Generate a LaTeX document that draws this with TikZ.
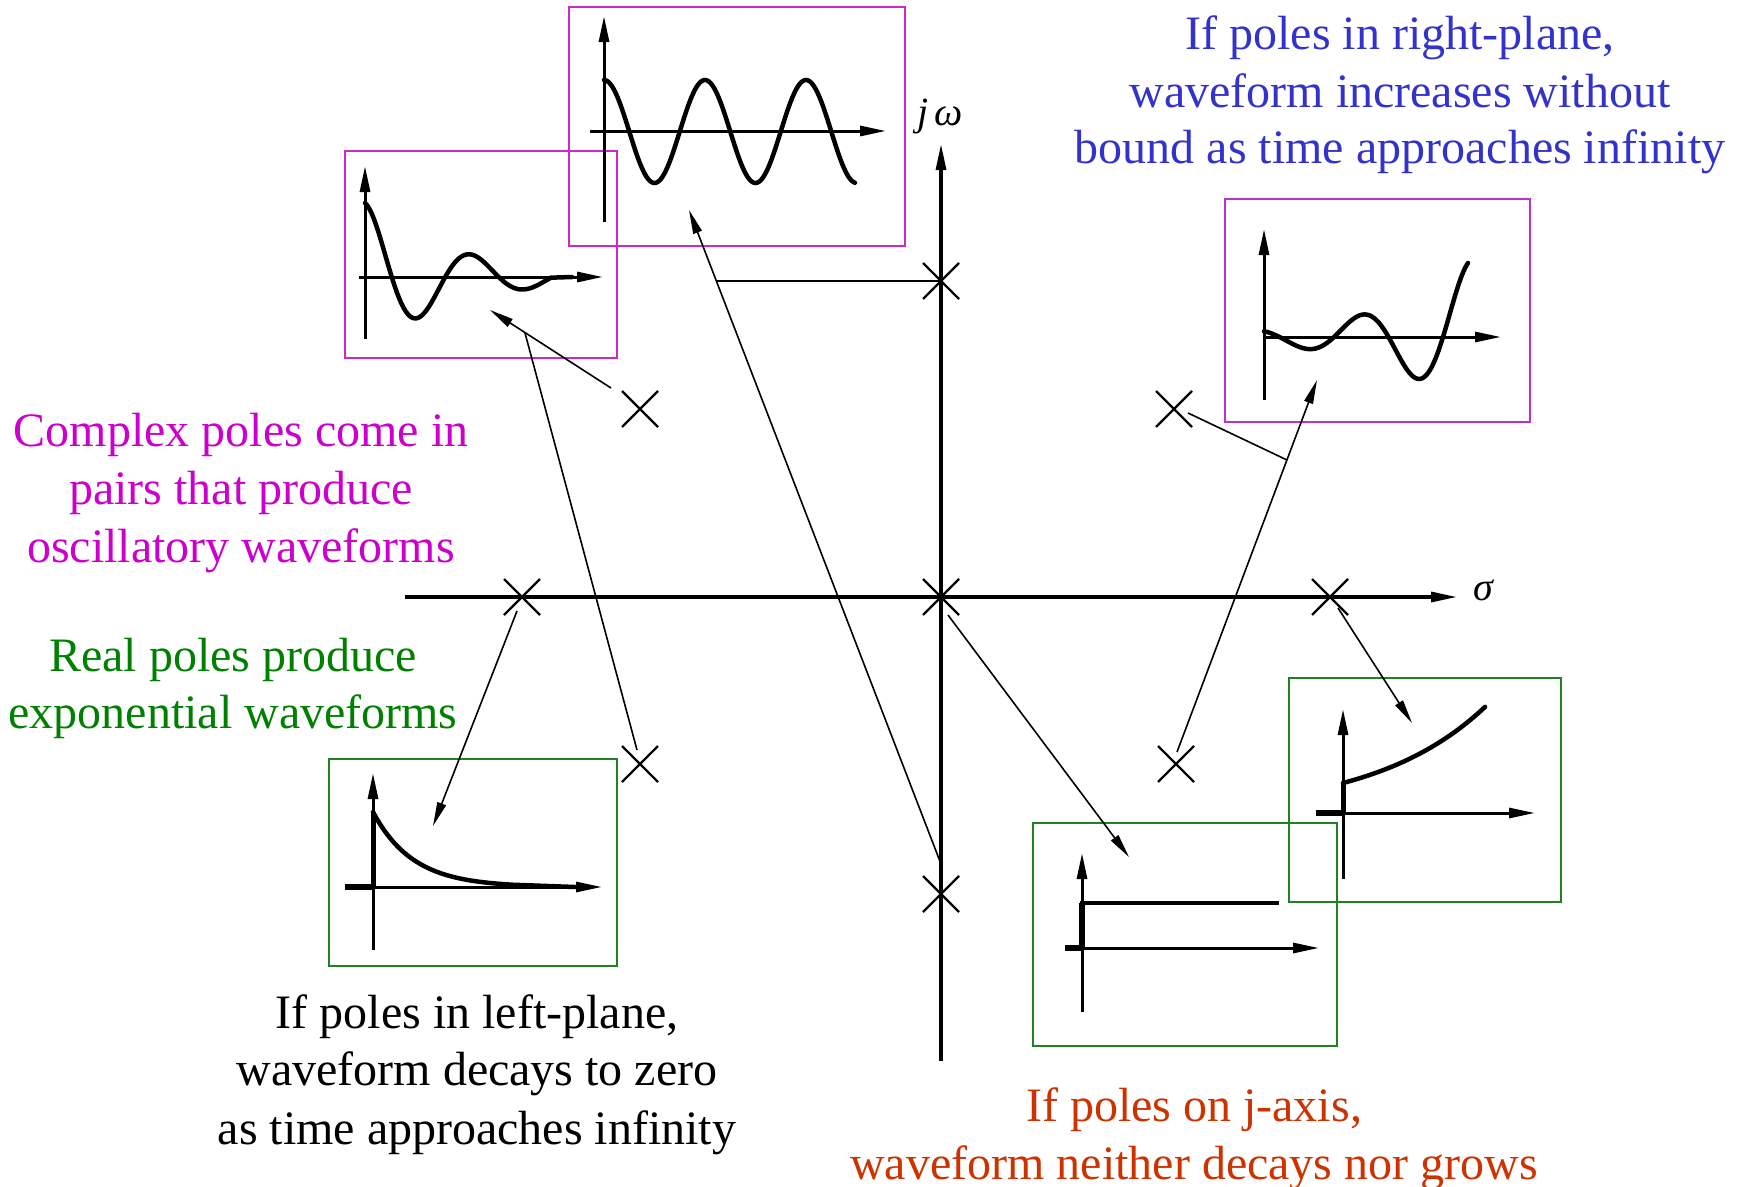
\documentclass[tikz,border=0pt]{standalone}
\usepackage{fontspec}
\setmainfont{Liberation Serif}
\usetikzlibrary{arrows.meta,shapes.misc}
\definecolor{tblue}{RGB}{51,51,204}
\definecolor{tmag}{RGB}{204,0,204}
\definecolor{tgreen}{RGB}{0,128,0}
\definecolor{tred}{RGB}{204,51,0}
\definecolor{bmag}{RGB}{204,40,204}
\definecolor{bpur}{RGB}{185,50,205}
\definecolor{bgreen}{RGB}{34,128,34}
\begin{document}
\begin{tikzpicture}[x=1pt,y=-1pt,
  lbl/.style={anchor=base, inner sep=0pt, font=\fontsize{48}{57}\selectfont},
  sym/.style={anchor=base, inner sep=0pt, font=\fontsize{40}{44}\selectfont\itshape},
  pole/.style={cross out, draw, line width=2.2pt, minimum size=36pt, inner sep=0pt, outer sep=0pt},
  axisline/.style={line width=3.2pt, -{Triangle[length=26pt,width=10pt]}},
  wfaxis/.style={line width=3pt, -{Triangle[length=26pt,width=10pt]}},
  curve/.style={line width=4.5pt, line cap=round},
  conn/.style={line width=1.6pt},
  connarrow/.style={line width=1.6pt, -{Triangle[length=24pt,width=9pt]}},
  wfbox/.style={draw, line width=2.5pt, inner sep=0pt, outer sep=0pt}
]
\useasboundingbox (0,0) rectangle (1737,1186);

% ---------- main axes ----------
\coordinate (hl) at (405,597); \coordinate (hr) at (1457,597);
\coordinate (vb) at (941,1061); \coordinate (vt) at (941,144);
\draw[axisline] (hl) -- (hr);
\draw[axisline] (vb) -- (vt);
\node[sym] (jw) at (940,125) {j\,ω};
\node[sym] (sig) at (1483,600) {σ};

% ---------- poles ----------
\node[pole] (p1) at (941,281) {};
\node[pole] (p2) at (640,409) {};
\node[pole] (p3) at (1174,409) {};
\node[pole] (p4) at (522,597) {};
\node[pole] (p5) at (941,597) {};
\node[pole] (p6) at (1330,597) {};
\node[pole] (p7) at (640,764) {};
\node[pole] (p8) at (1176,764) {};
\node[pole] (p9) at (941,894) {};

% ---------- boxes ----------
\node[wfbox, draw=bmag, minimum width=336pt, minimum height=239pt] (sinebox) at (737,126.5) {};
\node[wfbox, draw=bmag, minimum width=272pt, minimum height=207pt] (dampbox) at (481,254.5) {};
\node[wfbox, draw=bpur, minimum width=305pt, minimum height=223pt] (growbox) at (1377.5,310.5) {};
\node[wfbox, draw=bgreen, minimum width=288pt, minimum height=207pt] (decaybox) at (473,862.5) {};
\node[wfbox, draw=bgreen, minimum width=304pt, minimum height=223pt] (stepbox) at (1185,934.5) {};
\node[wfbox, draw=bgreen, minimum width=272pt, minimum height=224pt] (expbox) at (1425,790) {};

% ---------- waveforms ----------
% sustained oscillation
\draw[wfaxis] (604,222) -- (604,16);
\draw[wfaxis] (590,131) -- (886,131);
\draw[curve] plot[domain=0:251, samples=160, smooth] ({604+\x},{131.5-51.5*cos(3.5644*\x)});
% damped oscillation
\draw[wfaxis] (365,339) -- (365,166);
\draw[wfaxis] (359,277) -- (603,277);
\draw[curve] plot[domain=0:186, samples=140, smooth] ({365+\x},{277-74*exp(-0.0112*\x)*cos(3.3645*\x)}) -- (572,277);
% growing oscillation
\draw[wfaxis] (1264,400) -- (1264,229);
\draw[wfaxis] (1264,337) -- (1501,337);
\draw[curve] plot[domain=0:204, samples=140, smooth] ({1264+\x},{337-7.3*exp(0.0114*\x)*sin(3.303*(\x-70))});
% decaying exponential
\draw[wfaxis] (373,950) -- (373,773);
\draw[wfaxis] (345,887) -- (602,887);
\draw[line width=6pt] (345,887) -- (373,887);
\draw[line width=5pt] (373,887) -- (373,812);
\draw[curve] plot[domain=0:140, samples=80, smooth] ({373+\x},{887-75*exp(-\x/40)}) -- (575,887);
% step (j-axis)
\draw[wfaxis] (1082,1012) -- (1082,853);
\draw[wfaxis] (1065,948) -- (1319,948);
\draw[line width=6pt] (1065,948) -- (1082,948);
\draw[line width=6pt] (1082,948) -- (1082,903);
\draw[line width=4.5pt] (1080,903) -- (1279,903);
% growing exponential
\draw[wfaxis] (1343,879) -- (1343,709);
\draw[wfaxis] (1316,813) -- (1535,813);
\draw[line width=6pt] (1316,813) -- (1343,813);
\draw[line width=5pt] (1343,813) -- (1343,783);
\draw[curve] plot[domain=0:142, samples=80, smooth] ({1343+\x},{813-30*exp(0.00889*\x)});

% ---------- connectors ----------
\coordinate (l1s) at (611,388); \coordinate (l1e) at (490,310);
\draw[connarrow] (l1s) -- (l1e);
\coordinate (l2s) at (637,750); \coordinate (l2e) at (525,333);
\draw[conn] (l2s) -- (l2e);
\coordinate (l4s) at (941,864); \coordinate (l4e) at (689,210);
\draw[connarrow] (l4s) -- (l4e);
\coordinate (l3e) at (716,281);
\draw[conn] (p1.center) -- (l3e);
\coordinate (l5s) at (948,615); \coordinate (l5e) at (1129,857);
\draw[connarrow] (l5s) -- (l5e);
\coordinate (l6s) at (1338,608); \coordinate (l6e) at (1412,723);
\draw[connarrow] (l6s) -- (l6e);
\coordinate (l8s) at (1177,752); \coordinate (l8e) at (1317,380);
\draw[connarrow] (l8s) -- (l8e);
\coordinate (l7s) at (1188,413); \coordinate (l7e) at (1287,460);
\draw[conn] (l7s) -- (l7e);
\coordinate (l9s) at (517,611); \coordinate (l9e) at (433,826);
\draw[connarrow] (l9s) -- (l9e);

% ---------- texts ----------
\node[lbl, text=tblue] (b1) at (1400,49.5) {If poles in right-plane,};
\node[lbl, text=tblue] (b2) at (1400,107.5) {waveform increases without};
\node[lbl, text=tblue] (b3) at (1400,163.5) {bound as time approaches infinity};

\node[lbl, text=tmag] (m1) at (241,446.5) {Complex poles come in};
\node[lbl, text=tmag] (m2) at (241,504.5) {pairs that produce};
\node[lbl, text=tmag] (m3) at (241,562.5) {oscillatory waveforms};

\node[lbl, text=tgreen] (g1) at (233,671.5) {Real poles produce};
\node[lbl, text=tgreen] (g2) at (233,728.5) {exponential waveforms};

\node[lbl] (k1) at (477,1028.5) {If poles in left-plane,};
\node[lbl] (k2) at (477,1085.5) {waveform decays to zero};
\node[lbl] (k3) at (477,1144) {as time approaches infinity};

\node[lbl, text=tred] (r1) at (1194,1121.5) {If poles on j-axis,};
\node[lbl, text=tred] (r2) at (1194,1179) {waveform neither decays nor grows};
\end{tikzpicture}
\end{document}
